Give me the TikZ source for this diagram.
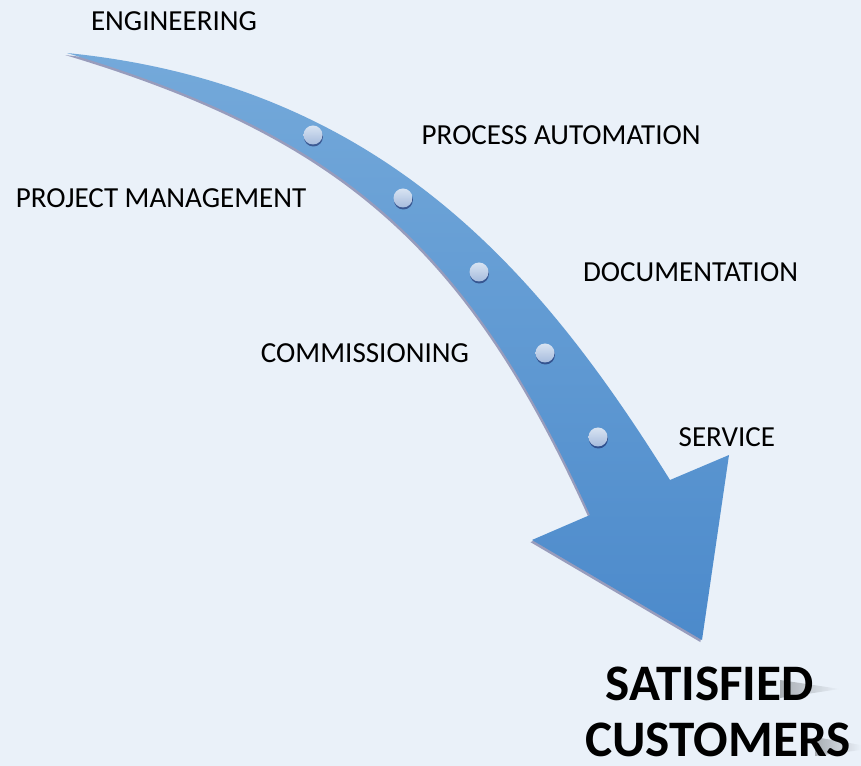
\documentclass[tikz,border=0pt]{standalone}
\usepackage{fontspec}
\setmainfont{Carlito}
\usepackage{tikz}
\usetikzlibrary{positioning, shadows, fadings}

\definecolor{bgblue}{HTML}{EAF1F9}
\definecolor{arrowtop}{HTML}{74A9DA}
\definecolor{arrowbot}{HTML}{4C8ACB}
\definecolor{dottop}{HTML}{D8E3F2}
\definecolor{dotbot}{HTML}{A6BCDD}

\begin{document}
\begin{tikzpicture}[x=0.75pt,y=-0.75pt,
    stage/.style={circle,minimum size=14.25pt,inner sep=0pt,top color=dottop,bottom color=dotbot,
        drop shadow={shadow xshift=0.3pt,shadow yshift=-1.5pt,opacity=0.45,fill=black!75!blue}},
    lbl/.style={inner sep=0pt,font=\fontsize{21.8}{26}\selectfont},
    goal/.style={inner sep=0pt,font=\bfseries\fontsize{38.4}{42}\selectfont}]

    % background
    \fill[bgblue] (0,0) rectangle (861,766);
    \useasboundingbox (0,0) rectangle (861,766);

    % arrow
    \coordinate (tail) at (67,53);
    \coordinate (rc) at (670,480);
    \coordinate (rb) at (729,455);
    \coordinate (tip) at (702,640);
    \coordinate (lb) at (532,540);
    \coordinate (lc) at (590,515);
    \path[top color=arrowtop,bottom color=arrowbot,
        drop shadow={shadow xshift=-1.2pt,shadow yshift=-1.6pt,opacity=0.35,fill=black!70!blue}]
        (tail) .. controls (387,85) and (545,280) .. (rc)
        -- (rb) -- (tip) -- (lb) -- (lc)
        .. controls (470,251) and (347,137) .. (tail) -- cycle;

    % stages
    \node[stage] (d1) at (313,135) {};
    \node[stage] (d2) at (403,198) {};
    \node[stage] (d3) at (479,272) {};
    \node[stage] (d4) at (545,353) {};
    \node[stage] (d5) at (598,437) {};

    \node[lbl] (eng) at (174,21) {ENGINEERING};
    \node[lbl, right=74pt of d1] (auto) {PROCESS AUTOMATION};
    \node[lbl, left=65pt of d2] (pm) {PROJECT MANAGEMENT};
    \node[lbl, right=70.5pt of d3] (doc) {DOCUMENTATION};
    \node[lbl, left=49.5pt of d4] (comm) {COMMISSIONING};
    \node[lbl, right=53pt of d5] (serv) {SERVICE};

    % goal text with its shadow
    \fill[black,opacity=0.28,path fading=east] (780,680) -- (840,689) -- (780,698) -- cycle;
    \fill[black,opacity=0.28,path fading=east] (815,737) -- (861,745) -- (861,750) -- (815,756) -- cycle;
    \node[goal] (sat) at (709.5,683.5) {SATISFIED};
    \node[goal] (cust) at (718,740) {CUSTOMERS};
\end{tikzpicture}
\end{document}
